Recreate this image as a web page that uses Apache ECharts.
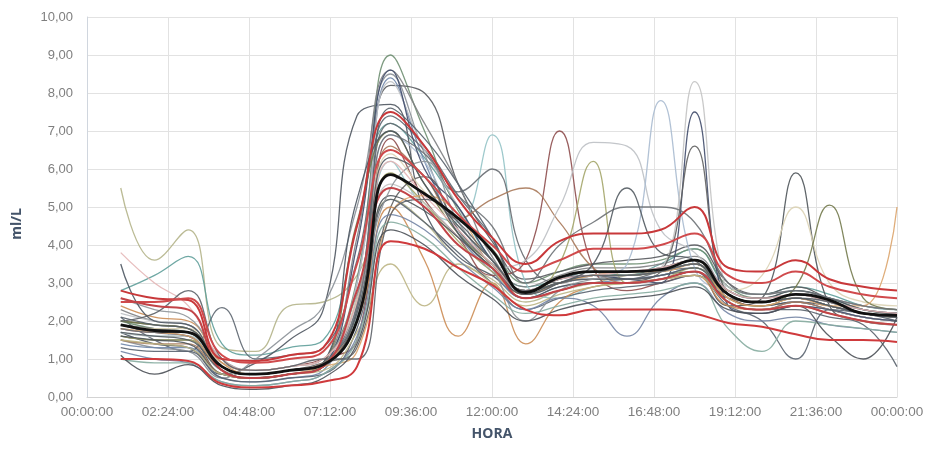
<!DOCTYPE html>
<html><head><meta charset="utf-8">
<script src="https://cdn.jsdelivr.net/npm/echarts@6/dist/echarts.min.js"></script>
<style>html,body{margin:0;padding:0;background:#fff}#c{width:932px;height:453px}</style>
</head><body><div id="c"></div>
<script>
// Hours of day (1..24) of each reading
const hours = [1,2,3,4,5,6,7,8,9,10,11,12,13,14,15,16,17,18,19,20,21,22,23,24];
const xTickLabels = ["00:00:00","02:24:00","04:48:00","07:12:00","09:36:00","12:00:00","14:24:00","16:48:00","19:12:00","21:36:00","00:00:00"];
const xAxisTitle = "HORA";
const yAxisTitle = "ml/L";

// Individual daily curves (ml/L)
const s01 = [5.5,3.6,4.4,1.3,1.2,2.4,2.5,3.2,5.2,4.6,3.6,3.1,2.5,2.8,3.0,3.2,3.3,3.5,2.6,2.5,2.7,2.5,2.2,2.1];
const s02 = [2.8,3.2,3.7,1.4,1.1,1.3,1.5,4.5,7.2,6.3,5.0,3.6,2.9,3.1,3.3,3.2,3.5,3.9,2.9,2.7,2.9,2.7,2.4,2.3];
const s03 = [2.1,1.5,1.2,2.35,1.0,1.1,1.3,3.6,7.4,6.6,5.3,4.2,2.7,3.0,3.2,3.2,3.3,3.5,2.6,2.4,2.5,2.3,2.1,2.0];
const s04 = [1.7,1.4,1.3,0.6,0.9,1.5,2.3,7.4,7.7,4.9,3.7,3.2,2.6,2.8,3.0,3.0,3.2,3.3,2.6,2.4,2.5,2.4,2.2,2.1];
const s05 = [1.5,1.3,1.2,0.5,1.0,1.7,2.4,5.0,8.5,6.4,4.4,3.4,2.8,3.0,3.2,3.3,3.4,3.6,2.7,2.5,2.7,2.5,2.3,2.2];
const s06 = [2.0,1.8,1.7,0.7,0.5,0.6,0.9,3.1,9.0,7.0,4.9,3.9,3.0,3.3,3.5,3.5,3.6,3.9,2.9,2.6,2.8,2.6,2.3,2.2];
const s07 = [1.6,1.5,1.5,0.6,0.5,0.6,0.8,2.4,8.2,8.0,5.6,4.1,3.1,3.3,3.5,3.6,3.7,4.0,3.0,2.7,2.9,2.6,2.4,2.3];
const s08 = [2.3,2.0,1.9,0.8,0.6,0.7,0.9,4.2,8.6,7.2,5.6,3.7,2.9,3.2,3.4,3.4,3.5,3.7,2.8,2.6,2.7,2.5,2.3,2.2];
const s09 = [1.4,1.3,1.3,0.5,0.4,0.5,0.7,3.0,8.4,6.2,4.3,3.3,2.6,2.9,3.0,3.1,3.2,3.4,2.5,2.3,2.5,2.3,2.1,2.0];
const s10 = [1.7,1.6,1.6,0.7,0.5,0.6,0.8,2.1,6.2,5.0,4.6,6.9,3.0,2.6,2.9,3.0,3.1,3.2,2.5,2.3,2.4,2.3,2.1,2.0];
const s11 = [1.9,1.8,1.7,0.8,0.6,0.7,0.9,2.6,7.2,6.5,5.4,6.0,3.6,3.0,3.2,3.1,3.3,3.4,2.7,2.5,2.6,2.4,2.2,2.1];
const s12 = [1.8,1.7,1.7,0.9,0.7,0.8,1.0,1.5,6.8,5.2,4.2,3.2,3.6,7.0,3.4,2.8,3.0,3.2,2.6,2.4,2.6,2.4,2.2,2.1];
const s13 = [1.5,1.4,1.4,0.6,0.5,0.6,0.8,2.0,6.6,5.8,4.7,5.2,5.5,4.6,3.4,3.0,3.1,3.3,2.5,2.3,2.5,2.3,2.1,2.0];
const s14 = [2.2,2.0,1.9,0.8,0.6,0.7,0.9,3.0,8.3,6.5,5.0,3.4,3.6,5.0,6.7,6.6,4.4,3.8,2.9,2.7,2.8,2.6,2.4,2.3];
const s15 = [1.6,1.5,1.5,0.7,0.5,0.6,0.8,2.2,5.9,5.1,4.1,3.3,2.7,3.5,6.2,3.0,3.1,3.4,2.6,2.4,2.6,2.4,2.2,2.1];
const s16 = [1.8,1.7,1.6,0.7,0.5,0.6,0.8,2.3,6.9,6.2,4.4,3.5,2.8,3.0,3.2,3.5,7.8,3.4,2.7,2.5,2.6,2.4,2.2,2.1];
const s17 = [1.7,1.6,1.6,0.7,0.6,0.7,0.9,2.2,5.6,5.1,4.2,3.4,2.7,3.0,3.2,3.3,3.4,8.3,2.6,2.2,2.4,2.3,2.1,2.0];
const s18 = [1.9,1.7,1.6,0.7,0.5,0.6,0.8,4.0,8.6,6.0,5.0,3.6,2.8,3.1,3.2,3.1,3.0,7.5,2.4,2.2,2.4,2.3,2.1,2.0];
const s19 = [2.0,1.9,1.8,0.8,0.6,0.7,0.9,1.3,5.0,5.8,4.4,3.5,2.7,3.0,3.1,3.1,3.3,6.6,2.7,2.5,2.6,2.4,2.2,2.1];
const s20 = [1.6,1.5,1.4,0.6,0.5,0.6,0.8,2.0,5.3,4.9,4.2,3.4,2.6,2.9,3.0,3.0,3.1,3.3,2.4,2.6,5.9,2.4,2.0,1.9];
const s21 = [1.9,1.8,1.8,0.9,0.7,0.8,1.0,2.6,6.4,5.4,4.5,3.6,2.8,3.1,3.3,3.3,3.4,3.6,2.8,3.2,5.0,3.0,2.5,2.4];
const s22 = [2.0,1.9,1.8,0.8,0.6,0.7,0.9,4.6,7.0,5.6,4.3,3.5,2.8,3.0,3.2,3.2,3.3,3.5,2.7,2.5,2.9,5.05,2.6,2.3];
const s23 = [1.8,1.7,1.6,0.7,0.5,0.6,0.8,1.2,4.8,5.3,4.8,3.4,2.7,3.0,3.2,3.3,3.3,3.5,2.6,2.4,2.6,2.4,2.4,5.0];
const s24 = [2.1,1.9,1.8,0.8,0.6,0.7,0.9,2.3,7.6,6.8,5.6,4.2,2.7,3.0,3.1,3.1,3.2,3.4,2.5,2.3,2.3,2.1,1.9,0.8];
const s25 = [1.3,1.2,1.2,0.5,0.4,0.5,0.6,1.8,5.2,4.6,3.8,3.0,2.3,2.6,2.8,2.9,3.0,3.2,2.4,2.0,1.0,2.3,2.2,2.0];
const s26 = [2.4,2.1,2.0,0.9,0.6,0.7,0.9,2.0,5.0,3.6,1.6,3.0,1.4,2.5,2.9,3.0,3.1,3.2,2.4,2.3,2.4,2.2,2.0,1.9];
const s27 = [1.5,1.4,1.3,0.6,0.5,0.6,0.7,1.7,3.5,2.4,3.5,3.0,2.4,2.7,2.9,3.0,3.1,3.2,2.5,2.3,2.4,2.2,2.0,1.9];
const s28 = [2.6,2.3,2.1,1.0,0.7,0.8,1.0,2.7,5.5,6.2,4.6,3.4,2.0,2.8,3.1,3.2,3.3,3.5,2.7,2.5,2.6,2.5,2.3,2.2];
const s29 = [1.2,1.0,0.9,0.4,0.3,0.4,0.6,1.6,4.8,4.4,3.6,2.9,2.3,2.6,2.4,1.6,2.6,3.0,2.2,2.0,2.1,1.9,1.8,1.7];
const s30 = [1.0,0.9,0.9,0.4,0.3,0.4,0.6,1.5,4.6,4.2,3.4,2.7,2.2,2.4,2.6,2.7,2.8,3.0,1.8,1.2,2.0,1.9,1.8,1.7];
const s31 = [1.1,0.6,0.85,0.3,0.2,0.3,0.5,1.4,4.4,4.0,3.2,2.6,2.0,2.3,2.5,2.6,2.7,2.9,2.3,2.2,2.4,1.6,1.0,2.1];
const s32 = [3.5,2.0,1.9,0.8,0.6,0.7,0.9,5.2,7.0,5.6,4.5,3.6,2.8,3.1,3.3,3.3,3.4,3.6,2.8,2.6,2.8,2.6,2.3,2.2];
const s33 = [3.8,3.0,2.4,1.0,0.7,0.8,1.0,2.5,6.2,5.3,4.4,3.5,2.8,3.1,3.2,3.3,3.4,3.6,2.8,2.6,2.7,2.5,2.3,2.2];
const s34 = [2.0,2.2,2.8,1.0,0.7,0.8,1.0,1.0,4.8,5.2,4.6,3.6,2.8,3.0,3.2,3.2,3.3,3.5,2.7,2.5,2.6,2.5,2.2,2.1];
const s35 = [1.8,1.7,1.7,0.8,0.6,0.7,0.9,2.4,6.9,6.4,5.3,4.5,3.0,4.0,4.6,5.0,5.0,4.6,3.0,2.7,2.8,2.6,2.4,2.3];
const s36 = [1.7,1.6,1.5,0.7,0.5,0.6,0.8,2.2,6.3,5.8,4.3,3.4,2.7,3.0,3.5,5.5,3.8,3.6,2.7,2.5,2.6,2.4,2.2,2.1];
// Highlighted red curves
const r01 = [2.8,2.6,2.55,1.0,0.95,1.1,1.3,4.5,7.5,6.6,5.2,4.2,3.5,4.1,4.3,4.3,4.4,5.0,3.4,3.3,3.6,3.1,2.9,2.8];
const r02 = [2.5,2.5,2.6,1.1,0.9,1.0,1.2,3.5,6.5,5.8,4.8,4.0,3.3,3.6,3.9,3.9,4.0,4.3,3.2,3.0,3.3,2.9,2.7,2.6];
const r03 = [2.6,2.4,2.3,0.7,0.5,0.6,0.8,2.8,5.5,5.0,4.0,3.4,2.6,2.8,3.0,3.0,3.1,3.3,2.5,2.3,2.4,2.2,2.0,1.9];
const r04 = [1.0,1.0,0.95,0.35,0.25,0.3,0.4,0.8,4.1,3.9,3.4,2.95,2.3,2.15,2.3,2.3,2.3,2.2,1.95,1.85,1.65,1.5,1.5,1.45];
// Average curve
const avg = [1.9,1.75,1.7,0.8,0.6,0.7,0.85,2.0,5.85,5.35,4.7,3.85,2.75,3.15,3.3,3.3,3.35,3.6,2.7,2.5,2.7,2.55,2.2,2.15];

const greySeries = [s01,s02,s03,s04,s05,s06,s07,s08,s09,s10,s11,s12,s13,s14,s15,s16,s17,s18,s19,s20,s21,s22,s23,s24,s25,s26,s27,s28,s29,s30,s31,s32,s33,s34,s35,s36];
const greyColors = ["#b4b48a","#5f9f9a","#5d6670","#4f5761","#8a9097","#6f8f72","#56595d","#7f8183","#6f86aa","#93c3c6","#676c71","#8e4e4e","#a9795a","#bcc0c4","#a4a66a","#aabbd0","#c3c3c3","#414c6c","#606060","#4f555a","#dcd3b5","#737a4c","#dba46c","#58606a","#59636f","#cc8d55","#bdb584","#8f9599","#7384a4","#86aca0","#4b5057","#4c5762","#e4b6b6","#5d6268","#6d7176","#535b62"];
const redSeries = [r01,r02,r03,r04];
const redColors = ["#c8383a","#d04a4c","#c24448","#cf3a3c"];

const pairs = d => hours.map((h,i)=>[h*60, d[i]]);
const series = [];
greySeries.forEach((d,i)=>series.push({type:'line',data:pairs(d),smooth:0.45,showSymbol:false,
  lineStyle:{width:1.3,color:greyColors[i],opacity:0.9},silent:true}));
redSeries.forEach((d,i)=>series.push({type:'line',data:pairs(d),smooth:0.45,showSymbol:false,
  lineStyle:{width:2,color:redColors[i]},silent:true}));
series.push({type:'line',data:pairs(avg),smooth:0.45,showSymbol:false,lineStyle:{width:2.8,color:'#111'},silent:true});

const chart = echarts.init(document.getElementById('c'),null,{renderer:'canvas'});
chart.setOption({
  animation:false,
  grid:{left:87,right:35,top:17,bottom:56},
  xAxis:{type:'value',min:0,max:1440,interval:144,
    axisLine:{show:true,lineStyle:{color:'#d3d3d3'}},axisTick:{show:false},
    splitLine:{show:true,lineStyle:{color:'#e2e2e2'}},
    axisLabel:{color:'#7f7f7f',fontFamily:'Liberation Sans',fontSize:13.5,margin:8,
      formatter:(v)=>xTickLabels[Math.round(v/144)]},
    name:xAxisTitle,nameLocation:'middle',nameGap:30,
    nameTextStyle:{color:'#44546a',fontWeight:'bold',fontSize:14,fontFamily:'Open Sans'}},
  yAxis:{type:'value',min:0,max:10,interval:1,
    axisLine:{show:true,lineStyle:{color:'#d0d6de'}},axisTick:{show:false},
    splitLine:{show:true,lineStyle:{color:'#e2e2e2'}},
    axisLabel:{color:'#7f7f7f',fontFamily:'Liberation Sans',fontSize:13,margin:14,
      formatter:(v)=>v.toFixed(2).replace('.',',')}},
  graphic:[{type:'text',left:10,top:208,rotation:Math.PI/2,
    style:{text:yAxisTitle,fill:'#44546a',font:'bold 14px "Open Sans"'}}],
  series:series
});
</script></body></html>
